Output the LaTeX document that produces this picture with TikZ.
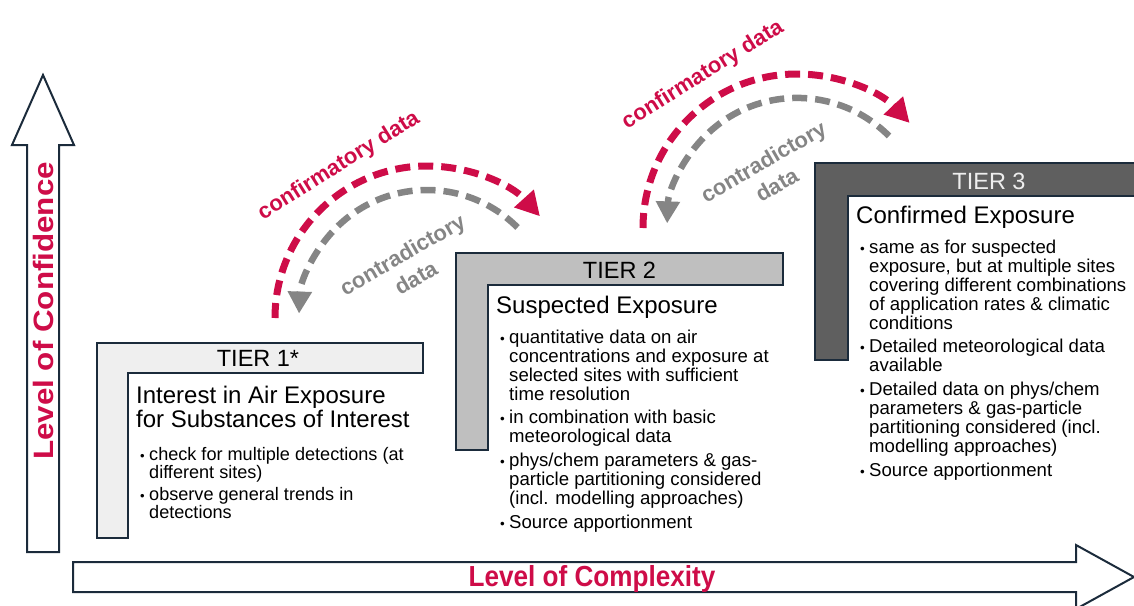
\documentclass[tikz,border=0pt]{standalone}
\usepackage{graphicx}
\usepackage{fontspec}
\setmainfont{Liberation Sans}
\usetikzlibrary{arrows.meta}

\definecolor{frameblue}{HTML}{1B2B3B}
\definecolor{confred}{RGB}{206,12,72}
\definecolor{contragray}{HTML}{858585}
\definecolor{tierI}{HTML}{EFEFEF}
\definecolor{tierII}{HTML}{BFBFBF}
\definecolor{tierIII}{HTML}{5F5F5F}
\definecolor{tierIIItext}{HTML}{EEEEEE}

% small bullet followed by a fixed gap before the item text
\newcommand{\bul}{\makebox[9pt][l]{\scalebox{0.72}{\textbullet}}}

\begin{document}
\begin{tikzpicture}[x=1pt,y=-1pt,
  frame/.style={draw=frameblue,line width=2pt,line join=miter},
  axisarrow/.style={frame,fill=white},
  tierlabel/.style={inner sep=0pt,font=\fontsize{23.5}{23.5}\selectfont},
  heading/.style={anchor=base west,inner sep=0pt,font=\fontsize{24}{24}\selectfont},
  bulletsI/.style={anchor=base west,inner sep=0pt,font=\fontsize{18.1}{17.5}\selectfont},
  bulletsII/.style={anchor=base west,inner sep=0pt,font=\fontsize{18.6}{18.6}\selectfont},
  confirm/.style={draw=confred,line width=7pt,dash pattern=on 15pt off 8pt,-{Triangle[length=24pt,width=25pt]}},
  contra/.style={draw=contragray,line width=6.5pt,dash pattern=on 15pt off 8pt,-{Triangle[length=22pt,width=23pt]}},
  conflabel/.style={text=confred,font=\fontsize{22}{22}\selectfont\bfseries,inner sep=0pt,rotate=32},
  contralabel/.style={text=contragray,font=\fontsize{22}{27}\selectfont\bfseries,inner sep=0pt,rotate=30,align=center},
  axislabel/.style={text=confred,inner sep=0pt},
]
\useasboundingbox (0,0) rectangle (1134,605);

% axes
\draw[axisarrow] (27,552) -- (27,145) -- (12,145) -- (43,75) -- (74,145) -- (59,145) -- (59,552) -- cycle;
\draw[axisarrow] (73,562) -- (1076,562) -- (1076,545) -- (1134,577) -- (1076,609) -- (1076,592) -- (73,592) -- cycle;
\node[axislabel,rotate=90,font=\fontsize{28}{28}\selectfont\bfseries] (confidence) at (43,311)
  {\scalebox{1.12}[1]{Level of Confidence}};
\node[axislabel,anchor=base,font=\fontsize{29}{29}\selectfont\bfseries] (complexity) at (592,586)
  {\scalebox{0.9}[1]{Level of Complexity}};

% tier 1
\draw[frame,fill=tierI] (97,343) -- (423,343) -- (423,373) -- (128,373) -- (128,538) -- (97,538) -- cycle;
\node[tierlabel] (t1) at (258,358.5) {TIER 1*};
\node[heading] (h1) at (136,403)
  {\begin{tabular}[t]{@{}l@{}}Interest in Air Exposure\\for Substances of Interest\end{tabular}};
\node[bulletsI] (b1) at (140,460) {\begin{tabular}[t]{@{}l@{}l@{}}
  \bul & check for multiple detections (at\\
       & different sites)\\[3.5pt]
  \bul & observe general trends in\\
       & detections
\end{tabular}};

% tier 2
\draw[frame,fill=tierII] (456,253) -- (783,253) -- (783,285) -- (488,285) -- (488,450) -- (456,450) -- cycle;
\node[tierlabel] (t2) at (619.5,270) {TIER 2};
\node[heading] (h2) at (496,313) {Suspected Exposure};
\node[bulletsII] (b2) at (500,343) {\begin{tabular}[t]{@{}l@{}l@{}}
  \bul & quantitative data on air\\
       & concentrations and exposure at\\
       & selected sites with sufficient\\
       & time resolution\\[4.5pt]
  \bul & in combination with basic\\
       & meteorological data\\[4.5pt]
  \bul & phys/chem parameters \& gas-\\
       & particle partitioning considered\\
       & (incl. modelling approaches)\\[4.5pt]
  \bul & Source apportionment
\end{tabular}};

% tier 3
\draw[frame,fill=tierIII] (815,163) -- (1170,163) -- (1170,196) -- (848,196) -- (848,360) -- (815,360) -- cycle;
\node[tierlabel,text=tierIIItext] (t3) at (989,181) {TIER 3};
\node[heading] (h3) at (856,223) {Confirmed Exposure};
\node[bulletsII] (b3) at (860,253) {\begin{tabular}[t]{@{}l@{}l@{}}
  \bul & same as for suspected\\
       & exposure, but at multiple sites\\
       & covering different combinations\\
       & of application rates \& climatic\\
       & conditions\\[4.5pt]
  \bul & Detailed meteorological data\\
       & available\\[4.5pt]
  \bul & Detailed data on phys/chem\\
       & parameters \& gas-particle\\
       & partitioning considered (incl.\\
       & modelling approaches)\\[4.5pt]
  \bul & Source apportionment
\end{tabular}};

% feedback loops between tier 1 and tier 2
\coordinate (loopIconf) at (275,318);
\coordinate (loopIcontra) at (517.5,227.5);
\draw[confirm] (loopIconf) arc[start angle=180,end angle=42,radius=152pt];
\draw[contra] (loopIcontra) arc[start angle=45,end angle=178,radius=128pt];
\node[conflabel] (conf1) at (339,166) {confirmatory data};
\node[contralabel] (contra1) at (409,266) {contradictory\\data};

% feedback loops between tier 2 and tier 3
\coordinate (loopIIconf) at (643,228);
\coordinate (loopIIcontra) at (889,136);
\draw[confirm] (loopIIconf) arc[start angle=180,end angle=43,radius=154pt];
\draw[contra] (loopIIcontra) arc[start angle=45,end angle=178,radius=130pt];
\node[conflabel] (conf2) at (703,75) {confirmatory data};
\node[contralabel] (contra2) at (770,173) {contradictory\\data};
\end{tikzpicture}
\end{document}
